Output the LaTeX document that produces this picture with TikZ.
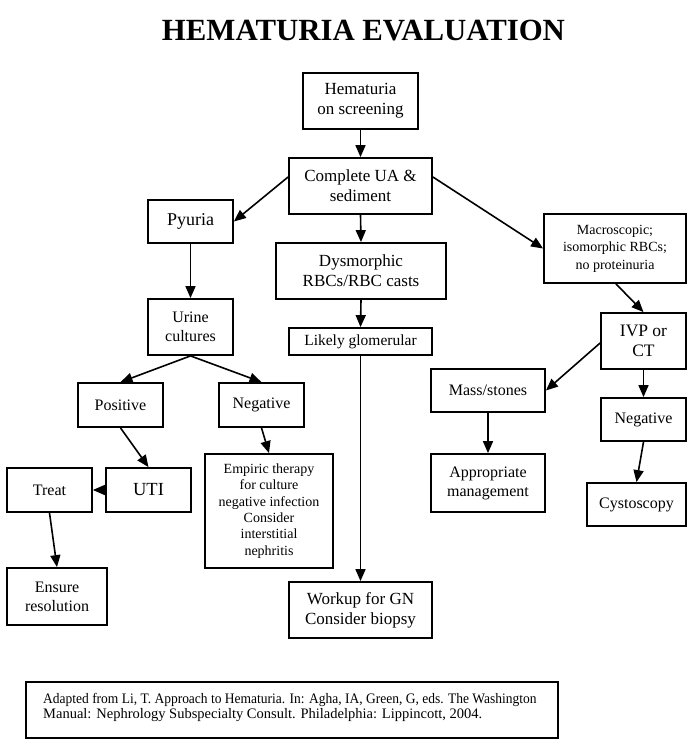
\documentclass[tikz,border=0pt]{standalone}
\usepackage{fontspec}
\usepackage{graphicx}
\setmainfont{Liberation Serif}
\usetikzlibrary{arrows.meta,calc}
\tikzset{
  box/.style={draw, line width=1.8pt, inner sep=0pt, align=center, font=\fontsize{17}{20}\selectfont},
  fs16/.style={font=\fontsize{16}{19}\selectfont},
  fs14/.style={font=\fontsize{14}{17.5}\selectfont},
  arr/.style={line width=1.6pt, -{Triangle[length=12pt,width=10pt]}},
}
\begin{document}
\begin{tikzpicture}[x=1pt,y=-1pt]
\useasboundingbox (0,0) rectangle (700,750);
\node[font=\fontsize{30.8}{36}\bfseries\selectfont, inner sep=0pt] (title) at (363.5,30.5) {HEMATURIA EVALUATION};

\node[box, minimum width=115pt, minimum height=56pt] (hem) at (360.5,101) {Hematuria\\on screening};
\node[box, minimum width=143pt, minimum height=56pt] (cua) at (360.5,186) {Complete UA \&\\sediment};
\node[box, minimum width=85pt, minimum height=43pt, font=\fontsize{18}{21}\selectfont] (pyu) at (190.5,221.5) {Pyuria};
\node[box, minimum width=170pt, minimum height=56pt] (dys) at (361,271) {Dysmorphic\\RBCs/RBC casts};
\node[box, minimum width=143pt, minimum height=27pt, font=\fontsize{15.5}{18}\selectfont] (lik) at (360.5,341.5) {Likely glomerular};
\node[box, fs14, minimum width=142pt, minimum height=69pt] (mac) at (615,248.5) {Macroscopic;\\isomorphic RBCs;\\no proteinuria};
\node[box, fs16, minimum width=85pt, minimum height=56pt] (uri) at (190.5,327) {Urine\\cultures};
\node[box, minimum width=85pt, minimum height=56pt, font=\fontsize{17.5}{20}\selectfont] (ivp) at (643.5,341) {IVP or\\CT};
\node[box, fs16, minimum width=85pt, minimum height=44pt] (pos) at (120.5,405) {Positive};
\node[box, fs16, minimum width=85pt, minimum height=44pt] (negl) at (261.5,405) {Negative};
\node[box, fs16, minimum width=114pt, minimum height=43pt] (mass) at (488,390.5) {Mass/stones};
\node[box, fs16, minimum width=85pt, minimum height=43pt] (negr) at (643.5,419.5) {Negative};
\node[box, fs16, minimum width=85pt, minimum height=44pt] (treat) at (49.5,490) {Treat};
\node[box, minimum width=85pt, minimum height=44pt, font=\fontsize{18.5}{21}\selectfont] (uti) at (148.5,490) {UTI};
\node[box, minimum width=128pt, minimum height=114pt, font=\fontsize{14}{16.3}\selectfont] (emp) at (269,511) {Empiric therapy\\for culture\\negative infection\\Consider\\interstitial\\nephritis};
\node[box, fs16, minimum width=114pt, minimum height=58pt] (app) at (488,483) {Appropriate\\management};
\node[box, fs16, minimum width=99pt, minimum height=43pt] (cys) at (636.5,504.5) {Cystoscopy};
\node[box, fs16, minimum width=100pt, minimum height=57pt] (ens) at (57,596.5) {Ensure\\resolution};
\node[box, minimum width=143pt, minimum height=56pt] (wrk) at (360.5,610) {Workup for GN\\Consider biopsy};

\node[draw, line width=1.8pt, minimum width=532pt, minimum height=56pt, inner sep=0pt] (foot) at (292,710) {};
\node[anchor=west, align=left, inner sep=0pt, font=\fontsize{14.5}{15}\selectfont] (foottext) at (43,707.5) {\scalebox{0.93}[1]{Adapted from Li, T. Approach to Hematuria. In: Agha, IA, Green, G, eds. The Washington}\\Manual: Nephrology Subspecialty Consult. Philadelphia: Lippincott, 2004.};

\draw[arr] (hem.south) -- (cua.north);
\draw[arr] ($(cua.west)+(0,-9)$) -- (pyu.east);
\draw[arr] (cua.south) -- (dys.north);
\draw[arr] (dys.south) -- (lik.north);
\draw[arr] ($(cua.east)+(0,-9)$) -- (mac.west);
\draw[arr] (pyu.south) -- (uri.north);
\draw[arr] (lik.south) -- (wrk.north);
\draw[arr] ($(mac.south)+(1,0)$) -- (ivp.north);
\draw[arr] (uri.south) -- (pos.north);
\draw[arr] (uri.south) -- (negl.north);
\draw[arr] ($(ivp.west)+(0,2)$) -- (mass.east);
\draw[arr] (ivp.south) -- (negr.north);
\draw[arr] (pos.south) -- (uti.north);
\draw[arr] (negl.south) -- (emp.north);
\draw[arr] (uti.west) -- (treat.east);
\draw[arr] (mass.south) -- (app.north);
\draw[arr] (negr.south) -- (cys.north);
\draw[arr] (treat.south) -- (ens.north);
\end{tikzpicture}
\end{document}
